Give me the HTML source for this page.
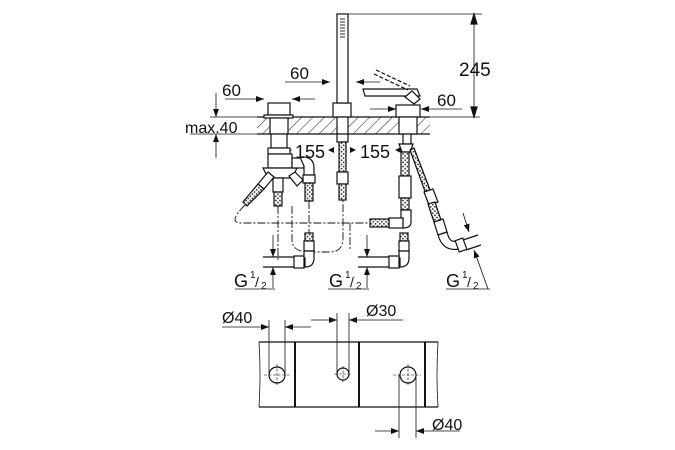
<!DOCTYPE html>
<html><head><style>
html,body{margin:0;padding:0;background:#fff;}
svg{display:block;}
text{font-family:"Liberation Sans",sans-serif;fill:#111;}
</style></head><body>
<svg width="675" height="450" viewBox="0 0 675 450" xmlns="http://www.w3.org/2000/svg">
<defs>
<pattern id="h" width="8" height="8" patternUnits="userSpaceOnUse" patternTransform="rotate(45)">
<line x1="0" y1="0" x2="0" y2="8" stroke="#222" stroke-width="1"/>
</pattern>
<pattern id="b" width="3" height="3" patternUnits="userSpaceOnUse" patternTransform="rotate(45)">
<rect width="3" height="3" fill="#fff"/><rect width="1.6" height="1.6" fill="#333"/>
</pattern>
<marker id="a" markerWidth="8" markerHeight="6" refX="8" refY="3" orient="auto" markerUnits="userSpaceOnUse">
<path d="M0,0 L8,3 L0,6z" fill="#111"/></marker>
</defs>
<g stroke="#111" fill="none" stroke-width="1.2">
<!-- deck -->
<rect x="257" y="117" width="173" height="17" fill="url(#h)" stroke="none"/>
<line x1="257" y1="117" x2="430" y2="117"/>
<line x1="257" y1="134" x2="430" y2="134"/>
<!-- valves top -->
<rect x="268" y="103" width="22" height="12" fill="#fff"/>
<rect x="264" y="115" width="29" height="3" fill="#fff"/>
<rect x="270" y="118" width="18" height="16" fill="#fff"/>
<rect x="333" y="103" width="18" height="14" fill="#fff"/>
<rect x="337" y="117" width="11" height="17" fill="#fff"/>
<rect x="337" y="14" width="11" height="89" fill="#fff"/>
<line x1="348" y1="14" x2="482" y2="14" stroke-width="0.7"/>
<g stroke-width="0.9"><line x1="340" y1="19" x2="345" y2="19"/><line x1="340" y1="22" x2="345" y2="22"/><line x1="340" y1="25" x2="345" y2="25"/><line x1="340" y1="28" x2="345" y2="28"/><line x1="340" y1="31" x2="345" y2="31"/><line x1="340" y1="34" x2="345" y2="34"/><line x1="340" y1="37" x2="345" y2="37"/></g>
<rect x="396" y="105" width="24" height="12" fill="#fff"/>
<rect x="399" y="117" width="18" height="17" fill="#fff"/>
<path d="M363,89 L417,89 L420,96 L365,96z" fill="#fff"/>
<path d="M405,97 L412,91 L420,99 L414,104z" fill="#fff"/>
<line x1="376" y1="70" x2="410" y2="86" stroke-dasharray="4,2"/>
<line x1="374" y1="74" x2="408" y2="90" stroke-dasharray="4,2"/>
<!-- dims top -->
<line x1="474" y1="14" x2="474" y2="117" stroke-width="0.8"/>
<path d="M474,14 L471,24 L477,24z M474,117 L471,107 L477,107z" fill="#111"/>
<line x1="430" y1="117" x2="480" y2="117" stroke-width="0.8"/>
<line x1="216" y1="93" x2="216" y2="117" marker-end="url(#a)" stroke-width="0.8"/>
<line x1="216" y1="158" x2="216" y2="134" marker-end="url(#a)" stroke-width="0.8"/>
<line x1="210" y1="117" x2="257" y2="117" stroke-width="0.8"/>
<line x1="190" y1="134" x2="257" y2="134" stroke-width="0.8"/>
<line x1="225" y1="99" x2="264" y2="99" marker-end="url(#a)" stroke-width="0.8"/>
<line x1="315" y1="99" x2="292" y2="99" marker-end="url(#a)" stroke-width="0.8"/>
<line x1="285" y1="82" x2="330" y2="82" marker-end="url(#a)" stroke-width="0.8"/>
<line x1="380" y1="82" x2="356" y2="82" marker-end="url(#a)" stroke-width="0.8"/>
<line x1="370" y1="109" x2="396" y2="109" marker-end="url(#a)" stroke-width="0.8"/>
<line x1="462" y1="109" x2="421" y2="109" marker-end="url(#a)" stroke-width="0.8"/>
<!-- 155 dims -->
<path d="M292,150 L286,147 L286,153z M356,150 L350,147 L350,153z M328,150 L334,147 L334,153z M395,150 L401,147 L401,153z" fill="#111" stroke="none"/>
<!-- under deck left -->
<rect x="271" y="134" width="16" height="14" fill="#fff"/>
<rect x="268" y="148" width="22" height="6" fill="#fff"/>
<rect x="268" y="154" width="24" height="14" fill="#fff"/>
<path d="M263,168 L297,168 L292,178 L268,178z" fill="#fff"/>
<rect x="292" y="158" width="12" height="10" fill="#fff"/>
<path d="M300,157 Q314,156 314,168 L314,175 L304,175 L304,166z" fill="#fff"/>
<rect x="303" y="175" width="12" height="8" fill="#fff"/>
<rect x="305" y="183" width="8" height="18" fill="url(#b)"/>
<rect x="273" y="178" width="10" height="14" fill="#fff"/>
<rect x="274" y="192" width="8" height="14" fill="url(#b)"/>
<path d="M268,172 L258,184 L264,189 L274,177z" fill="#fff"/>
<path d="M258,184 L243,202 L247,206 L264,189z" fill="url(#b)"/>
<path d="M289,176 L297,186 L303,180 L295,172z" fill="#fff"/>
<!-- center hose -->
<rect x="337" y="134" width="11" height="8" fill="#fff"/>
<rect x="339" y="142" width="7" height="30" fill="url(#b)"/>
<rect x="337" y="172" width="11" height="12" fill="#fff"/>
<rect x="339" y="184" width="7" height="16" fill="url(#b)"/>
<!-- right hoses -->
<rect x="403" y="134" width="8" height="10" fill="#fff"/>
<path d="M399,144 L413,144 L410,152 L402,152z" fill="#fff"/>
<rect x="401" y="152" width="8" height="24" fill="url(#b)"/>
<rect x="399" y="176" width="12" height="22" fill="#fff"/>
<rect x="401" y="198" width="8" height="12" fill="url(#b)"/>
<path d="M401,210 L411,210 L411,222 Q411,228 403,228 L403,218 L401,218z" fill="#fff"/>
<rect x="389" y="218" width="14" height="10" fill="#fff"/>
<rect x="370" y="219" width="19" height="8" fill="url(#b)"/>
<path d="M410,150 L414,148 L432,195 L427,197z" fill="url(#b)"/>
<path d="M424,192 L433,189 L438,202 L429,205z" fill="#fff"/>
<path d="M428,204 L435,202 L441,220 L434,222z" fill="url(#b)"/>
<path d="M434,222 L443,219 L447,232 L438,235z" fill="#fff"/>
<path d="M438,235 L447,232 Q450,245 458,240 L459,249 Q443,252 438,235z" fill="#fff"/>
<rect x="457" y="239" width="8" height="12" fill="#fff" transform="rotate(-20 461 245)"/>
<line x1="463" y1="240" x2="478" y2="235"/><line x1="466" y1="250" x2="481" y2="245"/>
<!-- dashed hoses -->
<g stroke-dasharray="8,2,2,2" stroke-width="0.9">
<path d="M245,205 Q228,222 240,223 L370,223"/>
<line x1="278" y1="206" x2="278" y2="262"/>
<line x1="309" y1="201" x2="309" y2="233"/>
<path d="M292,206 L292,240 Q292,252 310,252 L330,252 Q343,252 343,238 L343,200"/>
<line x1="350" y1="223" x2="350" y2="250"/>
</g>
<!-- lower fittings -->
<rect x="305" y="233" width="8" height="8" fill="url(#b)"/>
<rect x="304" y="241" width="10" height="10" fill="#fff"/>
<path d="M304,251 L314,251 L314,258 Q314,267 305,267 L305,258 L304,258z" fill="#fff"/>
<rect x="294" y="256" width="10" height="12" fill="#fff"/>
<line x1="263" y1="257" x2="294" y2="257"/><line x1="263" y1="267" x2="294" y2="267"/>
<rect x="400" y="233" width="8" height="8" fill="url(#b)"/>
<rect x="399" y="241" width="10" height="10" fill="#fff"/>
<path d="M399,251 L409,251 L409,258 Q409,267 400,267 L400,258 L399,258z" fill="#fff"/>
<rect x="389" y="256" width="10" height="12" fill="#fff"/>
<line x1="358" y1="257" x2="389" y2="257"/><line x1="358" y1="267" x2="389" y2="267"/>
<!-- G1/2 dims -->
<line x1="273" y1="235" x2="273" y2="257" marker-end="url(#a)" stroke-width="0.8"/>
<line x1="273" y1="288" x2="273" y2="267" marker-end="url(#a)" stroke-width="0.8"/>
<line x1="235" y1="289" x2="275" y2="289" stroke-width="0.8"/>
<line x1="367" y1="235" x2="367" y2="257" marker-end="url(#a)" stroke-width="0.8"/>
<line x1="367" y1="288" x2="367" y2="267" marker-end="url(#a)" stroke-width="0.8"/>
<line x1="328" y1="289" x2="369" y2="289" stroke-width="0.8"/>
<line x1="463" y1="213" x2="469" y2="232" marker-end="url(#a)" stroke-width="0.8"/>
<line x1="488" y1="289" x2="474" y2="250" marker-end="url(#a)" stroke-width="0.8"/>
<line x1="446" y1="289" x2="490" y2="289" stroke-width="0.8"/>
<!-- plan view -->
<line x1="259" y1="342" x2="438" y2="342"/>
<line x1="259" y1="407" x2="438" y2="407"/>
<path d="M259,342 Q261,375 259,407" stroke-width="0.8"/>
<path d="M438,342 Q436,375 438,407" stroke-width="0.8"/>
<line x1="295" y1="342" x2="295" y2="407" stroke-width="2"/>
<line x1="359" y1="342" x2="359" y2="407" stroke-width="2"/>
<line x1="425" y1="342" x2="425" y2="407" stroke-width="2"/>
<circle cx="277" cy="375" r="8"/>
<circle cx="343" cy="374" r="6"/>
<circle cx="408" cy="375" r="8"/>
<g stroke-width="0.6" stroke-dasharray="3,1.5">
<line x1="264" y1="375" x2="290" y2="375"/><line x1="277" y1="364" x2="277" y2="386"/>
<line x1="334" y1="374" x2="352" y2="374"/><line x1="343" y1="366" x2="343" y2="382"/>
<line x1="393" y1="375" x2="421" y2="375"/><line x1="408" y1="364" x2="408" y2="386"/>
</g>
<g stroke-width="0.8">
<line x1="269" y1="320" x2="269" y2="376"/><line x1="285" y1="320" x2="285" y2="376"/>
<line x1="222" y1="327" x2="269" y2="327" marker-end="url(#a)"/>
<line x1="311" y1="327" x2="285" y2="327" marker-end="url(#a)"/>
<line x1="337" y1="313" x2="337" y2="374"/><line x1="349" y1="313" x2="349" y2="374"/>
<line x1="311" y1="320" x2="337" y2="320" marker-end="url(#a)"/>
<line x1="403" y1="320" x2="349" y2="320" marker-end="url(#a)"/>
<line x1="399" y1="375" x2="399" y2="438"/><line x1="416" y1="375" x2="416" y2="438"/>
<line x1="375" y1="431" x2="399" y2="431" marker-end="url(#a)"/>
<line x1="460" y1="431" x2="416" y2="431" marker-end="url(#a)"/>
</g>
</g>
<text x="459" y="76" font-size="19">245</text>
<text x="222" y="96" font-size="17">60</text>
<text x="290" y="79" font-size="17">60</text>
<text x="437" y="106" font-size="17">60</text>
<text x="185" y="133" font-size="16">max.40</text>
<text x="295" y="158" font-size="18">155</text>
<text x="360" y="158" font-size="18">155</text>
<text x="234" y="287" font-size="18">G</text><text x="250" y="278" font-size="10">1</text><text x="255" y="287" font-size="14">/</text><text x="261" y="289" font-size="10">2</text>
<text x="329" y="287" font-size="18">G</text><text x="345" y="278" font-size="10">1</text><text x="350" y="287" font-size="14">/</text><text x="356" y="289" font-size="10">2</text>
<text x="446" y="287" font-size="18">G</text><text x="462" y="278" font-size="10">1</text><text x="467" y="287" font-size="14">/</text><text x="473" y="289" font-size="10">2</text>
<text x="222" y="323" font-size="16">Ø40</text>
<text x="366" y="316" font-size="16">Ø30</text>
<text x="432" y="430" font-size="16">Ø40</text>
</svg>
</body></html>
